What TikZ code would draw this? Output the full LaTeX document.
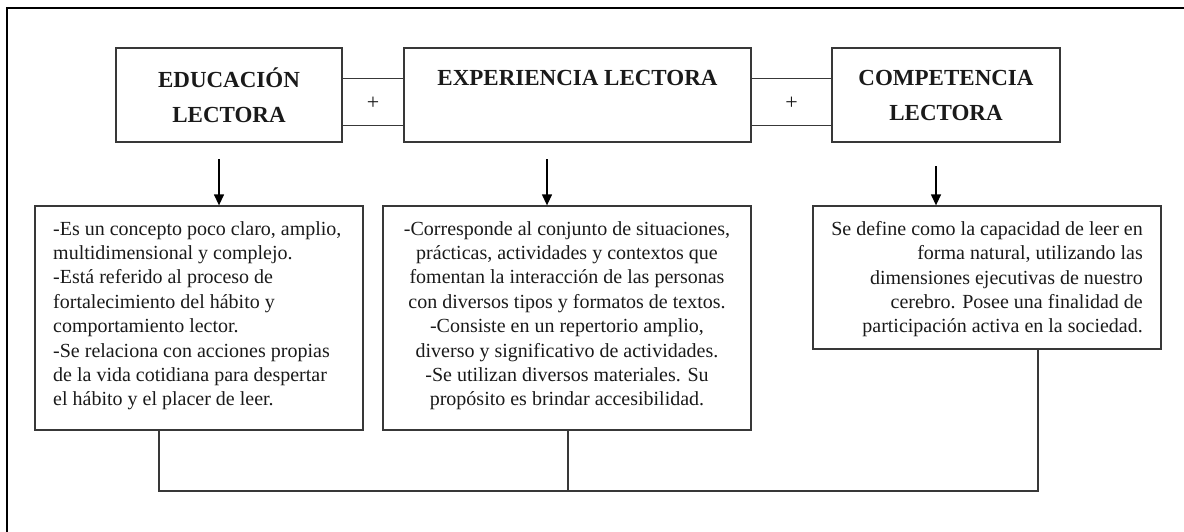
\documentclass[tikz,border=0pt]{standalone}
\usepackage{fontspec}
\setmainfont{Liberation Serif}
\usetikzlibrary{arrows.meta,calc}
\definecolor{ink}{HTML}{1A1A1A}
\definecolor{edge}{HTML}{383838}
\begin{document}
\begin{tikzpicture}[x=1pt,y=-1pt,
  hbox/.style={draw=edge, line width=1.3pt, minimum height=94pt, inner sep=0pt, align=center, text=ink, font=\fontsize{23}{35}\selectfont\bfseries},
  bbox/.style={draw=edge, line width=1.3pt, inner sep=0pt},
  btext/.style={inner sep=0pt, text=ink, font=\fontsize{20}{24.4}\selectfont},
  link/.style={draw=edge, line width=1.2pt},
  arr/.style={draw=black, line width=1.3pt, -{Triangle[length=11pt,width=10pt]}},
  plus/.style={inner sep=0pt, text=ink, font=\fontsize{22}{22}\selectfont}
]
\useasboundingbox (0,0) rectangle (1184,531);
\draw[line width=2.5pt] (7,545) -- (7,8) -- (1195,8);

% header boxes
\node[hbox, minimum width=226pt] (h1) at (229,95) {EDUCACIÓN\\LECTORA};
\node[hbox, minimum width=347pt] (h2) at (577.5,95) {EXPERIENCIA LECTORA\\\phantom{LECTORA}};
\node[hbox, minimum width=228pt] (h3) at (946,95) {COMPETENCIA\\LECTORA};

\draw[link] ($(h1.north east)!0.33!(h1.south east)$) -- ($(h2.north west)!0.33!(h2.south west)$);
\draw[link] ($(h1.north east)!0.82!(h1.south east)$) -- ($(h2.north west)!0.82!(h2.south west)$);
\draw[link] ($(h2.north east)!0.33!(h2.south east)$) -- ($(h3.north west)!0.33!(h3.south west)$);
\draw[link] ($(h2.north east)!0.82!(h2.south east)$) -- ($(h3.north west)!0.82!(h3.south west)$);
\node[plus] (p1) at ($(h1.east)!0.5!(h2.west) + (0,8)$) {+};
\node[plus] (p2) at ($(h2.east)!0.5!(h3.west) + (0,8)$) {+};

% body boxes
\node[bbox, minimum width=328pt, minimum height=224pt] (ba) at (199,318) {};
\node[bbox, minimum width=368pt, minimum height=224pt] (bb) at (567,318) {};
\node[bbox, minimum width=348pt, minimum height=143pt] (bc) at (987,277.5) {};

\node[btext, anchor=north west, align=left] (ta) at (53,221) {-Es un concepto poco claro, amplio,\\multidimensional y complejo.\\-Está referido al proceso de\\fortalecimiento del hábito y\\comportamiento lector.\\-Se relaciona con acciones propias\\de la vida cotidiana para despertar\\el hábito y el placer de leer.};
\node[btext, anchor=north, align=center] (tb) at (567,221) {-Corresponde al conjunto de situaciones,\\prácticas, actividades y contextos que\\fomentan la interacción de las personas\\con diversos tipos y formatos de textos.\\-Consiste en un repertorio amplio,\\diverso y significativo de actividades.\\-Se utilizan diversos materiales. Su\\propósito es brindar accesibilidad.};
\node[btext, anchor=north east, align=right] (tc) at (1143,221) {Se define como la capacidad de leer en\\forma natural, utilizando las\\dimensiones ejecutivas de nuestro\\cerebro. Posee una finalidad de\\participación activa en la sociedad.};

% arrows
\coordinate (a1) at (219,159);
\coordinate (a2) at (547,159);
\coordinate (a3) at (936,166);
\draw[arr] (a1) -- (a1 |- ba.north);
\draw[arr] (a2) -- (a2 |- bb.north);
\draw[arr] (a3) -- (a3 |- bc.north);

% bottom connectors
\coordinate (ja) at (159,491);
\coordinate (jb) at (568,491);
\coordinate (jc) at (1038,491);
\draw[link] (ba.south -| ja) -- (ja) -- (jc) -- (bc.south -| jc);
\draw[link] (bb.south -| jb) -- (jb);
\end{tikzpicture}
\end{document}
